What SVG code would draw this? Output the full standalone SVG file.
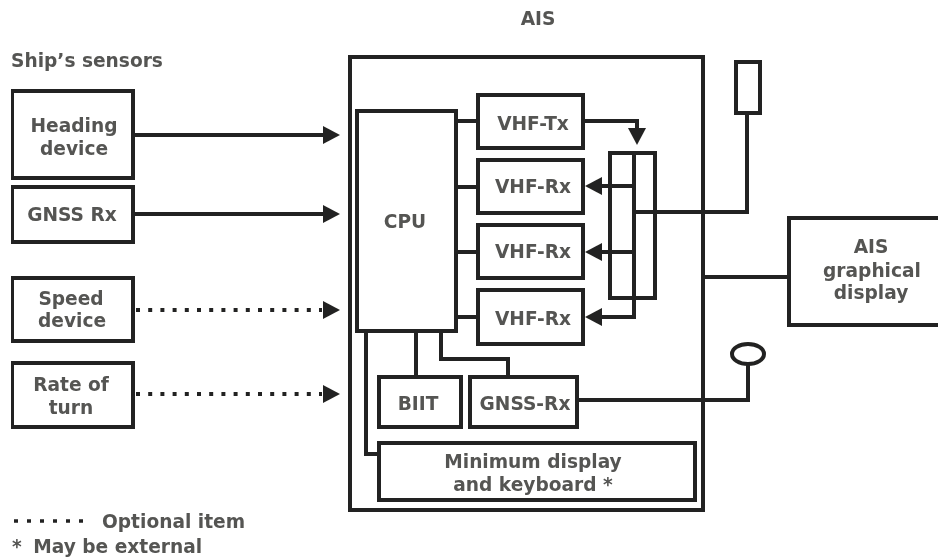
<svg xmlns="http://www.w3.org/2000/svg" width="938" height="559" viewBox="0 0 938 559">
<style>
.b{fill:none;stroke:#242421;stroke-width:4}
.s{fill:#fff;stroke:#242421;stroke-width:4}
.c{fill:none;stroke:#242421;stroke-width:4}
.d{fill:none;stroke:#242421;stroke-width:4;stroke-dasharray:4 8.2}
text{font-family:"DejaVu Sans",Verdana,sans-serif;font-size:18.6px;font-weight:bold;fill:#555553;text-anchor:middle}
.l{text-anchor:start}
.h{fill:#242421}
</style>
<defs>
<marker id="a" markerUnits="userSpaceOnUse" markerWidth="18" markerHeight="18" refX="6" refY="9" orient="auto"><path d="M0 0L17 9L0 18Z" fill="#242421"/></marker>
<filter id="soft" x="0" y="0" width="100%" height="100%"><feGaussianBlur stdDeviation="0.55"/></filter>
</defs>
<rect width="938" height="559" fill="#fff"/>
<g filter="url(#soft)">
<g id="connectors">
<path class="c" d="M133 135H329" marker-end="url(#a)"/>
<path class="c" d="M133 214H329" marker-end="url(#a)"/>
<path class="d" d="M136 310H322"/><path class="h" d="M323 301L340 310L323 319Z"/>
<path class="d" d="M136 394H322"/><path class="h" d="M323 385L340 394L323 403Z"/>
<path class="c" d="M456 121H478M456 187H478M456 252H478M456 317H478"/>
<path class="c" d="M416 331V377M441 331V359H508V377M366 331V454H379"/>
<path class="c" d="M583 121H637V134" marker-end="url(#a)"/>
<path class="c" d="M634 186H596" marker-end="url(#a)"/>
<path class="c" d="M634 252H596" marker-end="url(#a)"/>
<path class="c" d="M634 153V317H596" marker-end="url(#a)"/>
<path class="c" d="M636 212H747V113"/>
<path class="c" d="M703 277H789"/>
<path class="c" d="M577 400H748V364"/>
</g>
<g id="ais-box"><rect class="b" x="350" y="57" width="353" height="453"/></g>
<text x="538" y="25">AIS</text>
<text class="l" x="11" y="67">Ship’s sensors</text>
<g id="heading"><rect class="s" x="12" y="91" width="121" height="87"/><text x="74" y="132">Heading</text><text x="74" y="155">device</text></g>
<g id="gnss"><rect class="s" x="12" y="187" width="121" height="55"/><text x="72" y="221">GNSS Rx</text></g>
<g id="speed"><rect class="s" x="12" y="278" width="121" height="63"/><text x="71" y="305">Speed</text><text x="72" y="327">device</text></g>
<g id="rate"><rect class="s" x="12" y="363" width="121" height="64"/><text x="71" y="391">Rate of</text><text x="71" y="414">turn</text></g>
<g id="cpu"><rect class="s" x="357" y="111" width="99" height="220"/><text x="405" y="228">CPU</text></g>
<g id="vhf-tx"><rect class="s" x="478" y="95" width="105" height="53"/><text x="533" y="130">VHF-Tx</text></g>
<g id="vhf-rx1"><rect class="s" x="478" y="160" width="105" height="53"/><text x="533" y="193">VHF-Rx</text></g>
<g id="vhf-rx2"><rect class="s" x="478" y="225" width="105" height="53"/><text x="533" y="258">VHF-Rx</text></g>
<g id="vhf-rx3"><rect class="s" x="478" y="290" width="105" height="54"/><text x="533" y="325">VHF-Rx</text></g>
<g id="splitter"><rect class="c" x="610" y="153" width="45" height="145"/></g>
<g id="biit"><rect class="s" x="379" y="377" width="82" height="50"/><text x="418" y="410">BIIT</text></g>
<g id="gnss-rx"><rect class="s" x="470" y="377" width="107" height="50"/><text x="525" y="410">GNSS-Rx</text></g>
<g id="min-display"><rect class="s" x="379" y="443" width="316" height="57"/><text x="533" y="468">Minimum display</text><text x="533" y="491">and keyboard *</text></g>
<g id="antenna"><rect class="s" x="736" y="62" width="24" height="51"/></g>
<g id="gps-antenna"><ellipse class="s" cx="748" cy="354" rx="16" ry="10"/></g>
<g id="ais-display"><rect class="s" x="789" y="218" width="152" height="107"/><text x="871" y="253">AIS</text><text x="872" y="277">graphical</text><text x="871" y="299">display</text></g>
<path class="d" d="M14 521H84" style="stroke-width:3.5;stroke-dasharray:4 9"/>
<text class="l" x="102" y="528">Optional item</text>
<text class="l" x="12" y="553">* <tspan dx="5">May be external</tspan></text>
</g>
</svg>
